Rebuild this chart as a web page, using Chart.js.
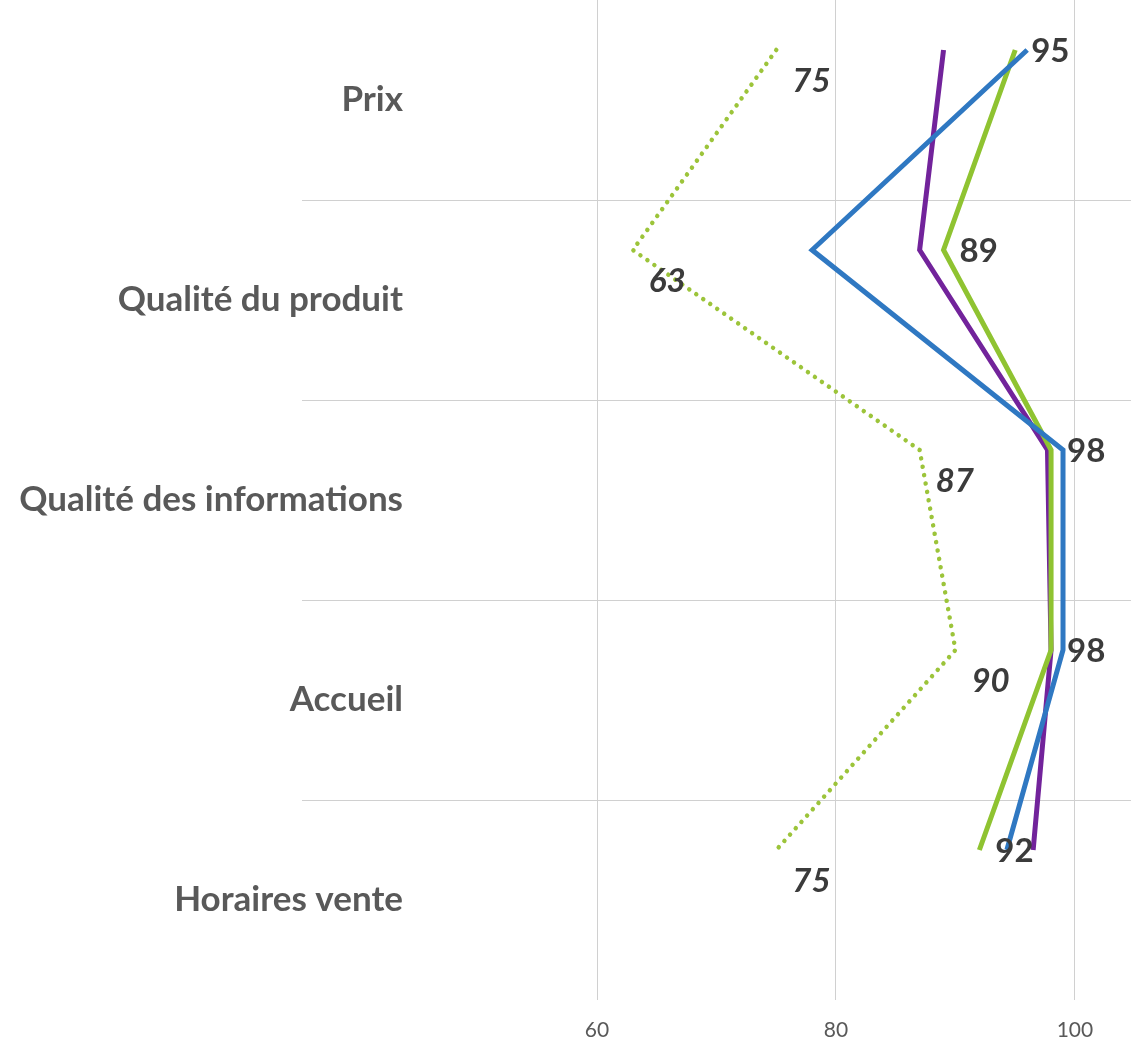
<!DOCTYPE html>
<html>
<head>
<meta charset="utf-8">
<script src="https://cdn.jsdelivr.net/npm/chart.js@4.4.0/dist/chart.umd.min.js"></script>
<style>
html,body{margin:0;padding:0;background:#ffffff;}
#wrap{width:1131px;height:1042px;position:relative;}
</style>
</head>
<body>
<div id="wrap"><canvas id="c" width="1131" height="1042"></canvas></div>
<script>
// ---- data ----
const categories = ['Prix', 'Qualité du produit', 'Qualité des informations', 'Accueil', 'Horaires vente'];
const seriesBlue   = [96, 78, 99, 99, 94.3];
const seriesPurple = [89, 87, 97.7, 98, 96.5];
const seriesGreen  = [95, 89, 98, 98, 92];
const seriesDotted = [75, 63, 87, 90, 75];
const xTickValues  = [60, 80, 100];

const GRID = '#d0d0d0';
const toPoints = arr => arr.map((v, i) => ({ x: v, y: i }));

const valueLabels = {
  id: 'valueLabels',
  afterDatasetsDraw(chart) {
    const ctx = chart.ctx;
    chart.data.datasets.forEach((ds, di) => {
      if (!ds.valueLabels) return;
      const meta = chart.getDatasetMeta(di);
      meta.data.forEach((pt, i) => {
        ctx.save();
        ctx.font = ds.valueLabels.font;
        ctx.fillStyle = '#3b3b3b';
        ctx.textAlign = 'left';
        ctx.textBaseline = 'middle';
        ctx.fillText(String(ds.data[i].x), pt.x + ds.valueLabels.dx, pt.y + ds.valueLabels.dy);
        ctx.restore();
      });
    });
  }
};

new Chart(document.getElementById('c'), {
  type: 'line',
  data: {
    datasets: [
      { label: 'Bleu', data: toPoints(seriesBlue), borderColor: '#2f78c2', borderWidth: 5,
        pointRadius: 0, tension: 0, fill: false, yAxisID: 'y2', xAxisID: 'x' },
      { label: 'Vert', data: toPoints(seriesGreen), borderColor: '#8fc331', borderWidth: 5,
        pointRadius: 0, tension: 0, fill: false, yAxisID: 'y2', xAxisID: 'x',
        valueLabels: { font: 'bold 33px Lato', dx: 16, dy: 1 } },
      { label: 'Violet', data: toPoints(seriesPurple), borderColor: '#72239b', borderWidth: 5,
        pointRadius: 0, tension: 0, fill: false, yAxisID: 'y2', xAxisID: 'x' },
      { label: 'Pointillé', data: toPoints(seriesDotted), borderColor: '#9cc43a', borderWidth: 4.5,
        borderDash: [0.01, 8.5], borderCapStyle: 'round',
        pointRadius: 0, tension: 0, fill: false, yAxisID: 'y2', xAxisID: 'x',
        valueLabels: { font: 'italic bold 33px Lato', dx: 16, dy: 31 } }
    ]
  },
  options: {
    indexAxis: 'y',
    responsive: false,
    animation: false,
    events: [],
    layout: { padding: 0 },
    plugins: { legend: { display: false }, tooltip: { enabled: false } },
    scales: {
      x: {
        type: 'linear',
        position: 'bottom',
        min: 43.93,
        max: 104.69,
        afterBuildTicks: s => { s.ticks = xTickValues.map(v => ({ value: v })); },
        afterFit: s => { s.height = 42; },
        grid: { color: GRID, lineWidth: 1, drawTicks: false },
        border: { display: false },
        ticks: { font: { family: 'Lato', size: 21 }, color: '#595959', padding: 18 }
      },
      y: {
        type: 'category',
        labels: categories,
        position: 'left',
        offset: true,
        afterFit: s => { s.width = 405; },
        grid: {
          offset: true,
          drawTicks: true,
          tickLength: 103,
          lineWidth: 1,
          color: c => (c.type === 'tick' && c.index > 0) ? GRID : 'rgba(0,0,0,0)'
        },
        border: { display: false },
        ticks: { font: { family: 'Lato', size: 35, weight: 'bold' }, color: '#595959', padding: -101, crossAlign: 'near' }
      },
      y2: {
        type: 'linear',
        display: false,
        reverse: true,
        min: -0.25,
        max: 4.75
      }
    }
  },
  plugins: [valueLabels]
});
</script>
</body>
</html>
